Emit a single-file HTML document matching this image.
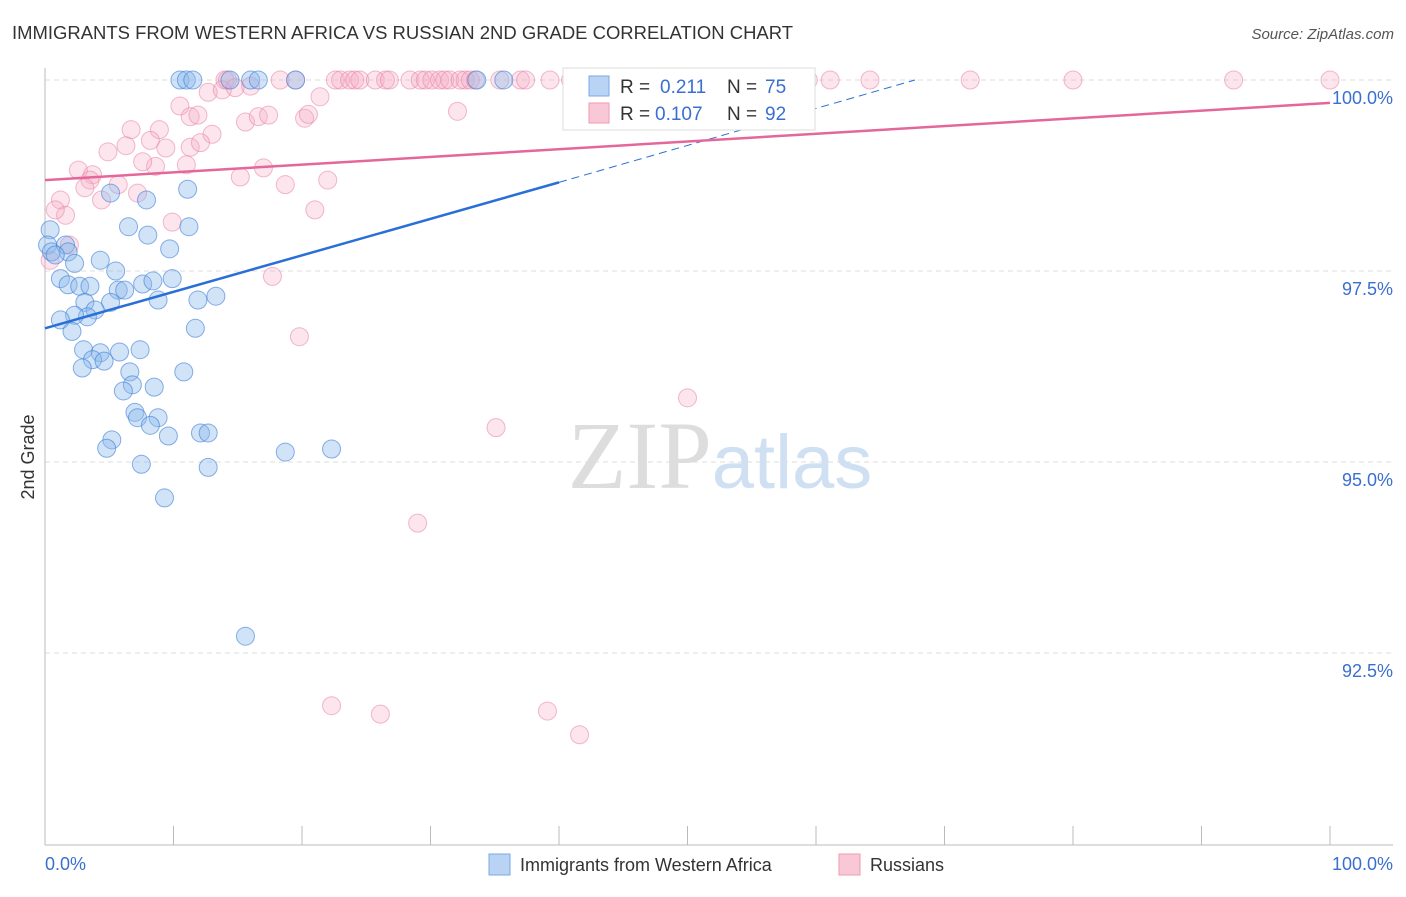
<!DOCTYPE html>
<html><head><meta charset="utf-8"><style>
body{margin:0;background:#fff;font-family:"Liberation Sans",sans-serif;}
svg text{font-family:"Liberation Sans",sans-serif;}
</style></head><body>
<svg id="chart" width="1406" height="892" xmlns="http://www.w3.org/2000/svg">
<text x="12" y="39" font-size="18" fill="#333" textLength="781" lengthAdjust="spacingAndGlyphs">IMMIGRANTS FROM WESTERN AFRICA VS RUSSIAN 2ND GRADE CORRELATION CHART</text>
<text x="1394" y="39" font-size="15" fill="#555" font-style="italic" text-anchor="end">Source: ZipAtlas.com</text>
<text x="720" y="488" font-size="96" text-anchor="middle"><tspan fill="#ddd" font-family="Liberation Serif">ZIP</tspan><tspan fill="#cfe0f3" font-size="76">atlas</tspan></text>
<text transform="translate(34,457) rotate(-90)" font-size="18" fill="#333" text-anchor="middle">2nd Grade</text>
<g id="grid"></g><g id="axes"></g><g id="pts"></g><g id="lines"></g>
<g>
<rect x="563" y="68" width="252" height="62" fill="#fff" stroke="#ddd"/>
<rect x="589" y="76" width="20" height="20" fill="#b8d3f3" stroke="#7aaae6"/>
<text x="620" y="93" font-size="19" fill="#333">R =</text>
<text x="660" y="93" font-size="19" fill="#3a6fd0">0.211</text>
<text x="727" y="93" font-size="19" fill="#333">N =</text>
<text x="765" y="93" font-size="19" fill="#3a6fd0">75</text>
<rect x="589" y="103" width="20" height="20" fill="#f9c8d6" stroke="#ee9ab3"/>
<text x="620" y="120" font-size="19" fill="#333">R =</text>
<text x="655" y="120" font-size="19" fill="#3a6fd0">0.107</text>
<text x="727" y="120" font-size="19" fill="#333">N =</text>
<text x="765" y="120" font-size="19" fill="#3a6fd0">92</text>
</g>
<g>
<rect x="489" y="854" width="21" height="21" fill="#b8d3f3" stroke="#7aaae6"/>
<text x="520" y="871" font-size="18" fill="#333">Immigrants from Western Africa</text>
<rect x="839" y="854" width="21" height="21" fill="#f9c8d6" stroke="#ee9ab3"/>
<text x="870" y="871" font-size="18" fill="#333">Russians</text>
</g>
</svg>
<script>
const blueX=[10.5,11.0,11.5,14.4,16.0,16.6,19.5,33.6,35.7,11.1,7.9,5.1,6.5,8.0,11.2,9.7,0.4,0.2,0.5,1.6,1.8,0.8,2.3,4.3,5.5,1.2,1.8,2.7,3.5,5.7,6.2,7.6,8.4,9.9,8.8,11.9,13.3,5.1,3.1,3.9,3.3,2.3,1.2,2.1,11.7,3.0,5.8,7.4,4.3,3.7,4.6,2.9,6.6,6.8,6.1,8.5,10.8,7.0,7.2,8.8,8.2,9.6,12.1,12.7,5.2,4.8,7.5,12.7,18.7,22.3,9.3,15.6];
const blueY=[100,100,100,100,100,100,100,100,100,98.57,98.43,98.52,98.08,97.97,98.08,97.79,98.04,97.84,97.75,97.84,97.75,97.71,97.60,97.64,97.50,97.40,97.32,97.30,97.30,97.25,97.25,97.33,97.37,97.40,97.12,97.12,97.17,97.09,97.09,96.99,96.90,96.92,96.86,96.71,96.75,96.47,96.44,96.47,96.43,96.34,96.32,96.23,96.18,96.01,95.93,95.98,96.18,95.65,95.58,95.58,95.48,95.34,95.38,95.38,95.29,95.18,94.97,94.93,95.13,95.17,94.53,92.72];
const pinkX=[14.0,14.2,18.3,19.5,22.6,23.0,23.7,24.1,24.5,25.7,26.5,26.8,28.4,29.2,29.6,30.1,30.7,31.1,31.5,32.3,32.7,33.1,33.5,35.4,37.0,37.4,39.3,40.9,47.1,51.0,52.4,59.4,61.1,64.2,72.0,80.0,92.5,100,12.7,13.8,14.8,16.0,10.5,11.3,11.9,15.6,16.6,17.4,20.2,20.5,21.4,32.1,8.9,13.0,6.7,11.3,8.2,9.4,6.3,4.9,12.1,8.6,7.6,11.0,2.6,3.7,3.5,5.7,7.2,3.1,4.4,17.0,15.2,18.7,22.0,21.0,9.9,1.2,1.6,0.8,1.9,17.7,19.8,50.0,35.1,29.0,22.3,26.1,39.1,41.6,0.4];
const pinkY=[100,100,100,100,100,100,100,100,100,100,100,100,100,100,100,100,100,100,100,100,100,100,100,100,100,100,100,100,100,100,100,100,100,100,100,100,100,100,99.84,99.87,99.90,99.92,99.66,99.52,99.54,99.45,99.52,99.54,99.50,99.55,99.78,99.59,99.35,99.29,99.35,99.12,99.21,99.11,99.14,99.06,99.18,98.87,98.93,98.89,98.82,98.76,98.69,98.63,98.52,98.59,98.43,98.85,98.73,98.63,98.69,98.30,98.14,98.43,98.23,98.30,97.84,97.43,96.64,95.84,95.45,94.20,91.81,91.70,91.74,91.43,97.64];
const yTicks=[100,97.5,95,92.5];
const yTickLabels=["100.0%","97.5%","95.0%","92.5%"];
const blueTrend=[0,96.75,40,98.66,67.7,100];
const pinkTrend=[0,98.69,100,99.70];
const X0=45,X1=1330,Y100=80,PXPER=76.4;
const sx=v=>X0+(X1-X0)*v/100, sy=v=>Y100+(100-v)*PXPER;
const NS="http://www.w3.org/2000/svg";
function mk(t,a,p){const e=document.createElementNS(NS,t);for(const k in a)e.setAttribute(k,a[k]);document.getElementById(p).appendChild(e);return e;}
yTicks.forEach((t,i)=>{
 const g=mk('line',{x1:X0,x2:1393,y1:sy(t),y2:sy(t),stroke:'#ddd','stroke-dasharray':'5,4'},'grid');
 
 
 const l=mk('text',{x:1393,y:sy(t)+24,'font-size':18,fill:'#3a6fd0','text-anchor':'end'},'grid');
 l.textContent=yTickLabels[i];
 
 
});
const ax=mk('line',{x1:X0,x2:X0,y1:68,y2:845,stroke:'#bbb'},'axes');


const bx=mk('line',{x1:X0,x2:1393,y1:845,y2:845,stroke:'#bbb'},'axes');


for(let i=0;i<=10;i++){const t=mk('line',{x1:sx(i*10),x2:sx(i*10),y1:826,y2:845,stroke:'#bbb'},'axes');
 
 }
const xl0=mk('text',{x:45,y:870,'font-size':18,fill:'#3a6fd0'},'axes');xl0.textContent='0.0%';


const xl1=mk('text',{x:1393,y:870,'font-size':18,fill:'#3a6fd0','text-anchor':'end'},'axes');xl1.textContent='100.0%';


pinkX.forEach((v,i)=>{const c=mk('circle',{cx:sx(v),cy:sy(pinkY[i]),r:9,fill:'rgba(246,170,194,0.3)',stroke:'rgba(232,130,162,0.55)'},'pts');
 
 });
blueX.forEach((v,i)=>{const c=mk('circle',{cx:sx(v),cy:sy(blueY[i]),r:9,fill:'rgba(140,185,235,0.4)',stroke:'rgba(60,125,215,0.6)'},'pts');
 
 });
const b1=mk('line',{x1:sx(blueTrend[0]),y1:sy(blueTrend[1]),x2:sx(blueTrend[2]),y2:sy(blueTrend[3]),stroke:'#2a6fd6','stroke-width':2.5},'lines');


const b2=mk('line',{x1:sx(blueTrend[2]),y1:sy(blueTrend[3]),x2:sx(blueTrend[4]),y2:sy(blueTrend[5]),stroke:'#2a6fd6','stroke-width':1,'stroke-dasharray':'8,5'},'lines');


const p1=mk('line',{x1:sx(pinkTrend[0]),y1:sy(pinkTrend[1]),x2:sx(pinkTrend[2]),y2:sy(pinkTrend[3]),stroke:'#e5679a','stroke-width':2.5},'lines');


</script>
</body></html>
